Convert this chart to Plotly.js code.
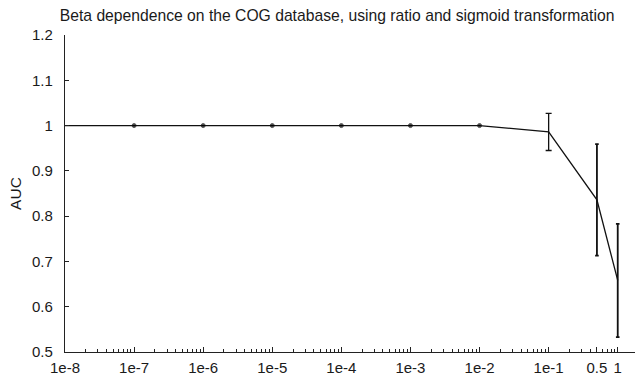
<!DOCTYPE html>
<html>
<head>
<meta charset="utf-8">
<script src="https://cdn.plot.ly/plotly-3.0.1.min.js"></script>
<style>html,body{margin:0;padding:0;background:#fff;}#chart{width:636px;height:377px;}</style>
</head>
<body>
<div id="chart"></div>
<script>
// Data
const betaValues = [1e-8, 1e-7, 1e-6, 1e-5, 1e-4, 1e-3, 1e-2, 1e-1, 0.5, 1];
const aucValues  = [1.0, 1.0, 1.0, 1.0, 1.0, 1.0, 1.0, 0.986, 0.836, 0.658];
const aucErrors  = [0, 0, 0, 0, 0, 0, 0, 0.041, 0.123, 0.125];

const xTickVals  = [1e-8, 1e-7, 1e-6, 1e-5, 1e-4, 1e-3, 1e-2, 1e-1, 0.5, 1];
const xTickText  = ['1e-8', '1e-7', '1e-6', '1e-5', '1e-4', '1e-3', '1e-2', '1e-1', '0.5', '1'];
const yTickVals  = [0.5, 0.6, 0.7, 0.8, 0.9, 1.0, 1.1, 1.2];
const yTickText  = ['0.5', '0.6', '0.7', '0.8', '0.9', '1', '1.1', '1.2'];

// minor log ticks (axis decoration)
const minorVals = [];
for (let e = -8; e <= 0; e++) {
  for (let m = 2; m <= 9; m++) minorVals.push(m * Math.pow(10, e));
}

const bigIdx = [7];
const smallIdx = [8, 9];

const traces = [
  {
    x: betaValues, y: aucValues, type: 'scatter', mode: 'lines+markers',
    line: {color: '#111', width: 1.3},
    marker: {color: '#000', size: betaValues.map((v, i) => (i > 0 && i < 7) ? 4 : 0)},
    cliponaxis: false,
    hoverinfo: 'x+y'
  },
  {
    x: bigIdx.map(i => betaValues[i]), y: bigIdx.map(i => aucValues[i]),
    type: 'scatter', mode: 'markers', marker: {size: 0.1, color: '#111'},
    error_y: {type: 'data', array: bigIdx.map(i => aucErrors[i]), color: '#111', thickness: 1.3, width: 3}
  },
  {
    x: smallIdx.map(i => betaValues[i]), y: smallIdx.map(i => aucValues[i]),
    type: 'scatter', mode: 'markers', marker: {size: 0.1, color: '#111'},
    error_y: {type: 'data', array: smallIdx.map(i => aucErrors[i]), color: '#111', thickness: 1.8, width: 1.8}
  }
];

const font = {family: 'Liberation Sans, Arial, sans-serif', size: 15, color: '#1a1a1a'};

const layout = {
  width: 636, height: 377,
  margin: {l: 65, r: 1, t: 35, b: 25, pad: 0},
  paper_bgcolor: '#fff', plot_bgcolor: '#fff',
  showlegend: false,
  font: font,
  title: {
    text: 'Beta dependence on the COG database, using ratio and sigmoid transformation',
    font: {family: 'Liberation Sans, Arial, sans-serif', size: 15.7, color: '#1a1a1a'},
    xref: 'container', x: 0.53, xanchor: 'center',
    yref: 'container', y: 0.958, yanchor: 'middle'
  },
  xaxis: {
    type: 'log', range: [-8, 0.25],
    tickmode: 'array', tickvals: xTickVals, ticktext: xTickText,
    ticks: 'inside', ticklen: 5, tickwidth: 1, tickcolor: '#222',
    showline: true, linecolor: '#222', linewidth: 1.2,
    showgrid: false, zeroline: false, mirror: false,
    ticklabelstandoff: 2,
    minor: {tickmode: 'array', tickvals: minorVals, ticks: 'inside', ticklen: 3, tickcolor: '#222', showgrid: false}
  },
  yaxis: {
    range: [0.5, 1.2],
    tickmode: 'array', tickvals: yTickVals, ticktext: yTickText,
    ticks: 'inside', ticklen: 4, tickwidth: 1, tickcolor: '#222',
    showline: true, linecolor: '#222', linewidth: 1.2,
    showgrid: false, zeroline: false, mirror: false,
    ticklabelstandoff: 8,
    title: {text: 'AUC', font: {family: 'Liberation Sans, Arial, sans-serif', size: 15.5, color: '#1a1a1a'}, standoff: 6}
  }
};

Plotly.newPlot('chart', traces, layout, {displayModeBar: false, staticPlot: true});
</script>
</body>
</html>
